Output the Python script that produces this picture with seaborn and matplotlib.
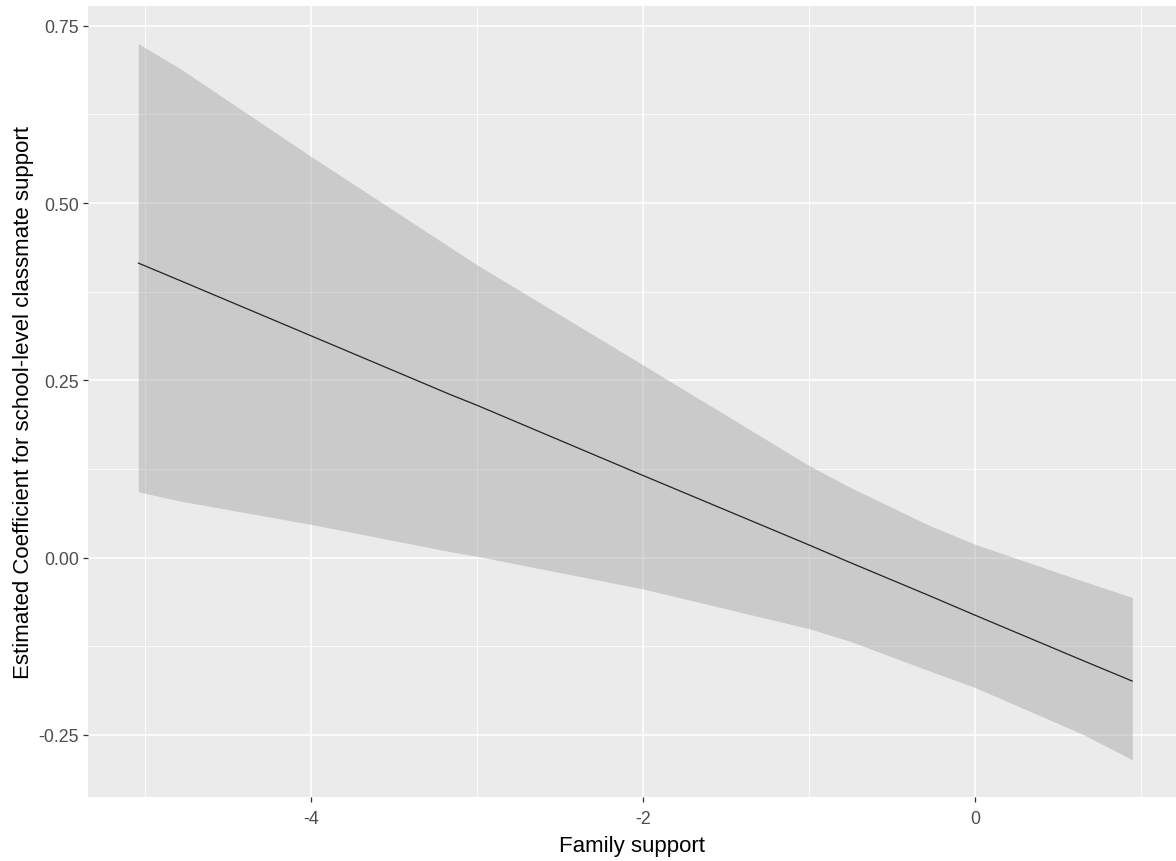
import pandas as pd
import matplotlib
matplotlib.use("Agg")
import matplotlib.pyplot as plt
import seaborn as sns

# values
family_support = [-5.04, -4.79, -4.0, -3.16, -3.0, -2.0, -1.0, -0.75, -0.27, 0.0, 0.65, 0.948]
estimate = [0.4155, 0.391, 0.313, 0.230, 0.215, 0.116, 0.018, -0.007, -0.054, -0.081, -0.145, -0.174]
upper = [0.725, 0.690, 0.566, 0.4375, 0.413, 0.272, 0.130, 0.099, 0.045, 0.019, -0.033, -0.056]
lower = [0.093, 0.080, 0.047, 0.0085, 0.002, -0.044, -0.100, -0.118, -0.160, -0.183, -0.249, -0.285]

x_ticks = [-4, -2, 0]
y_ticks = [-0.25, 0.00, 0.25, 0.50, 0.75]
y_tick_labels = ["-0.25", "0.00", "0.25", "0.50", "0.75"]

df = pd.DataFrame({"x": family_support, "est": estimate, "lo": lower, "hi": upper})

sns.set_theme(style="darkgrid")
plt.rcParams['font.family'] = ['Liberation Sans', 'DejaVu Sans']

fig = plt.figure(figsize=(11.76, 8.62), dpi=100)
ax = fig.add_axes([0.0748, 0.0746, 0.9252, 0.9173])
ax.set_facecolor("#EBEBEB")

# confidence band + estimate line
ax.fill_between(df["x"], df["lo"], df["hi"], color="#999999", alpha=0.4, linewidth=0, zorder=3)
sns.lineplot(data=df, x="x", y="est", color="#222222", linewidth=0.9, ax=ax, zorder=4)

ax.set_xlim(-5.343, 1.211)
ax.set_ylim(-0.337, 0.778)
ax.set_xticks(x_ticks)
ax.set_xticklabels([str(t) for t in x_ticks])
ax.set_yticks(y_ticks)
ax.set_yticklabels(y_tick_labels)
ax.set_xticks([-5, -3, -1, 1], minor=True)
ax.set_yticks([-0.125, 0.125, 0.375, 0.625], minor=True)

ax.grid(which="major", color="white", linewidth=1.1)
ax.grid(which="minor", color="white", linewidth=0.55)
ax.set_axisbelow(True)
for s in ax.spines.values():
    s.set_visible(False)

ax.tick_params(axis="both", which="major", length=3.5, width=0.9, color="#333333",
               labelsize=12.8, labelcolor="#4D4D4D", bottom=True, left=True)
ax.tick_params(axis="x", which="major", pad=6)
ax.tick_params(axis="y", which="major", pad=3)
ax.tick_params(axis="both", which="minor", length=0)

ax.set_xlabel("Family support", fontsize=16, color="black", labelpad=6)
ax.set_ylabel("Estimated Coefficient for school-level classmate support", fontsize=16,
              color="black", labelpad=3)

fig.savefig("out.png", dpi=100, facecolor="white")
